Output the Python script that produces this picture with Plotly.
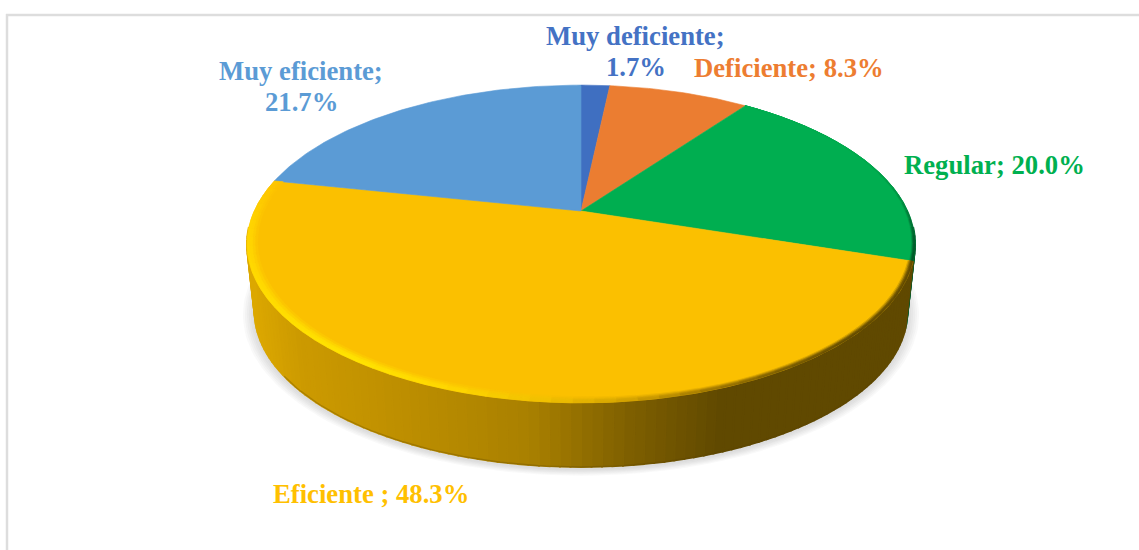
import numpy as np
import plotly.graph_objects as go

# -------------------------------------------------
# DATA
# -------------------------------------------------

labels = ["Muy deficiente", "Deficiente", "Regular", "Eficiente ", "Muy eficiente"]
values = [1.7, 8.3, 20.0, 48.3, 21.7]
slice_colors = ["#3F6FC1", "#EB7D31", "#00AE50", "#FBC000", "#5B9BD5"]
label_colors = ["#4472C4", "#ED7D31", "#00B050", "#FFC000", "#5B9BD5"]
label_breaks = [True, False, False, False, True]
label_x = [635.5, 789, 994, 370.5, 301]
label_y = [51, 68, 165, 494, 86.5]

# -------------------------------------------------
# PERSPECTIVE OF THE PIE (pixels of the page)
# -------------------------------------------------

CX, CY = 581, 211
RX, RY = 326.7, 152
K = 0.2075
BOTTOM_SCALE, BOTTOM_CY = 0.977, 279.5

WALL_STOPS = [(252, "#DCA800"), (300, "#CC9A00"), (365, "#C39300"), (530, "#A98000"),
              (630, "#7E5F00"), (720, "#604900"), (920, "#604900")]
YELLOW_RIM = [(108, "#604900"), (135, "#604900"), (150, "#7A5C00"), (162, "#A07800"),
              (173, "#D0A000"), (185, "#F0C000"), (200, "#FFD800"), (215, "#FFE400"),
              (240, "#FFDC00"), (265, "#FFD400"), (282, "#FDC400")]
YELLOW_WIDTH = [(108, 0.014), (160, 0.016), (190, 0.03), (282, 0.03)]
GREEN_RIM = [(36, "#00AE50"), (70, "#00A94D"), (88, "#008A40"), (100, "#005E2C"), (108, "#00582A")]
GREEN_WIDTH = [(36, 0.003), (108, 0.010)]


def project(theta, r=1.0, scale=1.0, cy=CY):
    u = r * np.sin(np.radians(theta))
    v = r * np.cos(np.radians(theta))
    w = 1 + K * v
    return CX + scale * RX * u / w, cy - scale * RY * v / w


def to_rgb(c):
    return np.array([int(c[i:i + 2], 16) for i in (1, 3, 5)], dtype=float)


def ramp(stops, pos):
    xs = [s[0] for s in stops]
    rgb = [np.interp(pos, xs, [to_rgb(s[1])[i] for s in stops]) for i in range(3)]
    return rgb


def css(rgb):
    return "rgb(%d,%d,%d)" % tuple(int(round(c)) for c in rgb)


def poly(x, y, color, line=None, width=1.5):
    return go.Scatter(
        x=list(x), y=list(y), mode="lines", fill="toself", fillcolor=color,
        line=dict(color=line or color, width=width if line else 0),
        hoverinfo="skip", showlegend=False,
    )


fig = go.Figure()

# slice limits, clockwise from 12 o'clock
edges = np.cumsum([0] + values) * 3.6

# -------------------------------------------------
# SOFT SHADOW UNDER THE PIE
# -------------------------------------------------

circle = np.linspace(0, 360, 181)
for grow in [1.036, 1.030, 1.024, 1.018, 1.012, 1.006]:
    sx, sy = project(circle, scale=BOTTOM_SCALE * grow, cy=BOTTOM_CY + 2)
    fig.add_trace(poly(sx, sy, "rgba(120,120,120,0.045)"))

# -------------------------------------------------
# SIDE WALL
# -------------------------------------------------

for i in [2, 3]:
    start = max(edges[i], 96)
    end = min(edges[i + 1], 264)
    steps = np.linspace(start, end, max(int((end - start) / 1.5), 2) + 1)
    for a, b in zip(steps[:-1], steps[1:]):
        arc = np.linspace(a, b, 3)
        tx, ty = project(arc)
        bx, by = project(arc[::-1], scale=BOTTOM_SCALE, cy=BOTTOM_CY)
        xs = np.concatenate([tx, bx, tx[:1]])
        ys = np.concatenate([ty, by, ty[:1]])
        if i == 2:
            color = "rgb(0,90,42)"
        else:
            color = css(ramp(WALL_STOPS, xs.mean()))
        fig.add_trace(poly(xs, ys, color, line=color, width=2))

# dark edge at the foot of the wall
foot = np.linspace(125, 235, 100)
fx, fy = project(foot, scale=BOTTOM_SCALE, cy=BOTTOM_CY)
fig.add_trace(go.Scatter(x=fx, y=fy, mode="lines", line=dict(color="rgba(90,65,0,0.3)", width=1.2),
                         hoverinfo="skip", showlegend=False))

# -------------------------------------------------
# TOP FACE
# -------------------------------------------------

for a, b, color in zip(edges[:-1], edges[1:], slice_colors):
    arc = np.linspace(a, b, max(int(b - a), 2) + 1)
    ax, ay = project(arc)
    xs = np.concatenate([[CX], ax, [CX]])
    ys = np.concatenate([[CY], ay, [CY]])
    fig.add_trace(poly(xs, ys, color, line=color, width=0.6))

# -------------------------------------------------
# BEVEL ALONG THE TOP EDGE
# -------------------------------------------------

# fraction of the band from the inside, and how much of the rim colour
bands = [(0.0, 0.25, 0.25), (0.25, 0.5, 0.6), (0.5, 0.75, 0.9), (0.75, 1.0, 1.0)]
for i, rim, rim_width in [(2, GREEN_RIM, GREEN_WIDTH), (3, YELLOW_RIM, YELLOW_WIDTH)]:
    face = to_rgb(slice_colors[i])
    steps = np.linspace(edges[i], edges[i + 1], int((edges[i + 1] - edges[i]) / 3) + 1)
    widths = [s[1] for s in rim_width]
    angles = [s[0] for s in rim_width]
    for a, b in zip(steps[:-1], steps[1:]):
        rim_rgb = np.array(ramp(rim, (a + b) / 2))
        band = np.interp((a + b) / 2, angles, widths)
        for f0, f1, mix in bands:
            arc = np.linspace(a, b, 3)
            x0, y0 = project(arc, r=1 - band * (1 - f1))
            x1, y1 = project(arc[::-1], r=1 - band * (1 - f0))
            color = css(face + (rim_rgb - face) * mix)
            fig.add_trace(poly(np.concatenate([x0, x1, x0[:1]]),
                               np.concatenate([y0, y1, y0[:1]]), color, line=color, width=0.7))

# -------------------------------------------------
# LABELS
# -------------------------------------------------

for label, value, color, brk, x, y in zip(labels, values, label_colors, label_breaks, label_x, label_y):
    if brk:
        lines = [(label + ";", y - 15.5), ("%.1f%%" % value, y + 15.5)]
    else:
        lines = [("%s; %.1f%%" % (label, value), y)]
    for text, line_y in lines:
        fig.add_annotation(
            x=x, y=line_y, xref="x", yref="y", showarrow=False, align="center",
            text="<b>%s</b>" % text,
            font=dict(family="Liberation Serif", size=26.7, color=color),
        )

# frame of the chart area: only the top and left lines show
fig.add_shape(type="line", x0=6, x1=1139, y0=15, y1=15, line=dict(color="#DDDDDD", width=2.5))
fig.add_shape(type="line", x0=7, x1=7, y0=14, y1=550, line=dict(color="#DDDDDD", width=2.5))

fig.update_layout(
    width=1139,
    height=550,
    margin=dict(l=0, r=0, t=0, b=0),
    paper_bgcolor="white",
    plot_bgcolor="white",
    showlegend=False,
    xaxis=dict(range=[0, 1139], visible=False, fixedrange=True),
    yaxis=dict(range=[550, 0], visible=False, fixedrange=True),
)

# the page's default body margin would push the figure 8px in
fig.write_html(
    "out.html",
    config={"displayModeBar": False},
    post_script="document.body.style.margin='0';document.body.style.overflow='hidden';",
)
